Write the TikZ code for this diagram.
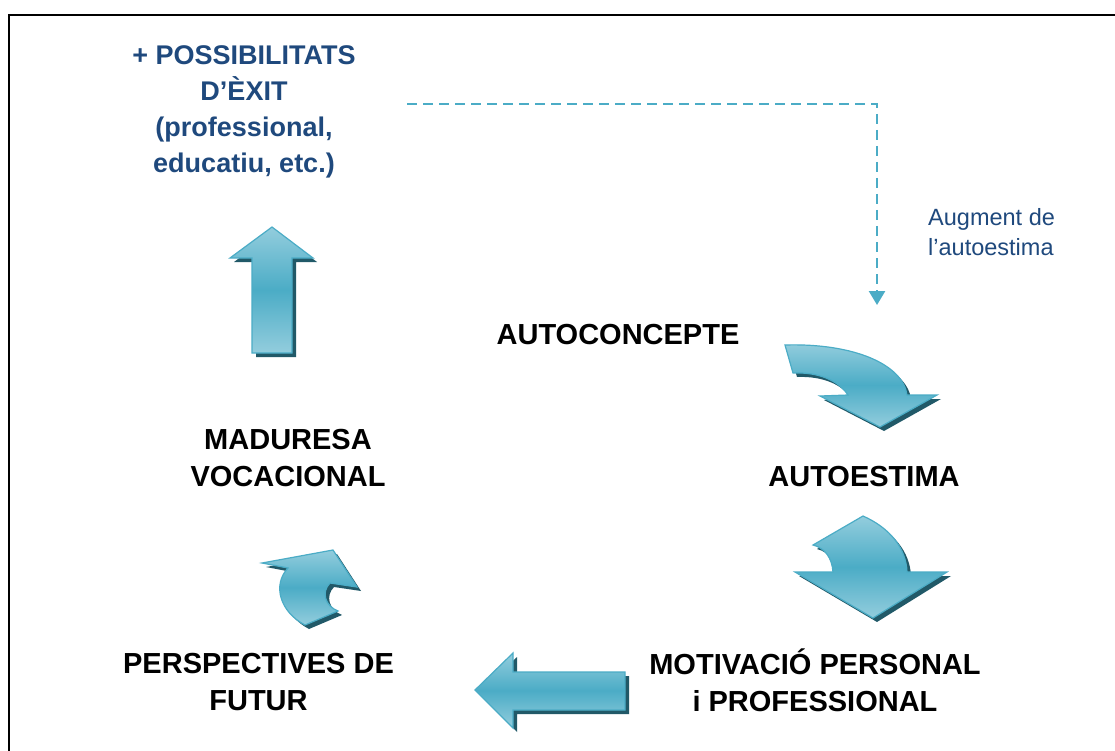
\documentclass[tikz,border=0pt]{standalone}
\usepackage{fontspec}
\setmainfont{Liberation Sans}
\usetikzlibrary{arrows.meta}
\definecolor{teallight}{HTML}{93CDDD}
\definecolor{tealmid}{HTML}{4BACC6}
\definecolor{tealedge}{HTML}{4BACC6}
\definecolor{tealshadow}{HTML}{215968}
\definecolor{darkblue}{HTML}{1F497D}
\tikzset{
  blockarrow/.style={top color=teallight, bottom color=teallight, middle color=tealmid, draw=tealedge, line width=1.2pt, line join=miter},
  blockshadow/.style={fill=tealshadow, draw=none, shift={(4,4)}},
  lbl/.style={font=\bfseries\fontsize{29}{37}\selectfont, align=center, inner sep=0pt, text=black},
  titlelbl/.style={font=\bfseries\fontsize{27}{36}\selectfont, align=center, inner sep=0pt, text=darkblue},
  notelbl/.style={font=\fontsize{23.5}{30}\selectfont, align=left, inner sep=0pt, text=darkblue},
  dashline/.style={draw=tealmid, line width=2.6pt, dash pattern=on 10pt off 6pt, -{Triangle[width=16pt,length=14pt]}}
}
\begin{document}
\begin{tikzpicture}[x=1pt,y=-1pt]
\useasboundingbox (0,0) rectangle (1115,751);
\fill[white] (0,0) rectangle (1115,751);
% frame
\draw[black, line width=2pt] (8.5,760) -- (8.5,15) -- (1120,15);

% texts
\node[titlelbl] (exit) at (244,112) {+ POSSIBILITATS\\D’ÈXIT\\(professional,\\educatiu, etc.)};
\node[notelbl, anchor=west] (augment) at (928,232) {Augment de\\l’autoestima};
\node[lbl] (autoconcepte) at (618,335) {AUTOCONCEPTE};
\node[lbl] (autoestima) at (864,477) {AUTOESTIMA};
\node[lbl] (maduresa) at (288,458.5) {MADURESA\\VOCACIONAL};
\node[lbl] (motivacio) at (815,680) {MOTIVACIÓ PERSONAL\\i PROFESSIONAL};
\node[lbl] (perspectives) at (258.5,682.5) {PERSPECTIVES DE\\FUTUR};

% dashed connector
\coordinate (dashstart) at (407,104);
\coordinate (dashend) at (877,305);
\draw[dashline] (dashstart) -| (dashend);

% up arrow
\def\uparrowpath{(252,353) -- (252,258) -- (230,258) -- (272,227) -- (313,258) -- (292,258) -- (292,353) -- cycle}
\fill[blockshadow] \uparrowpath;
\path[blockarrow] \uparrowpath;

% left arrow
\def\leftarrowpath{(625,672) -- (513,672) -- (513,653) -- (475,690) -- (513,728) -- (513,710) -- (625,710) -- cycle}
\fill[blockshadow] \leftarrowpath;
\path[blockarrow] \leftarrowpath;

% curved arrow autoconcepte -> autoestima
\def\curveApath{(785,345) .. controls (855,343) and (903,365) .. (907,395) -- (937,395) -- (880,427) -- (820,396) -- (848,395) .. controls (838,380) and (818,372) .. (793,373) -- cycle}
\fill[blockshadow] \curveApath;
\path[blockarrow] \curveApath;

% curved arrow autoestima -> motivacio
\def\curveBpath{(813,545) -- (863,516) .. controls (890,528) and (906,548) .. (907,572) -- (947,572) -- (873,618) -- (795,572) -- (833,572) .. controls (832,558) and (825,548) .. (813,545) -- cycle}
\fill[blockshadow] \curveBpath;
\path[blockarrow] \curveBpath;

% small curved arrow perspectives -> maduresa
\def\curveCpath{(305,625) .. controls (280,612) and (272,585) .. (288,568) -- (262,563) -- (333,550) -- (357,587) -- (330,583) .. controls (321,592) and (325,606) .. (338,611) -- cycle}
\fill[blockshadow] \curveCpath;
\path[blockarrow] \curveCpath;
\end{tikzpicture}
\end{document}
